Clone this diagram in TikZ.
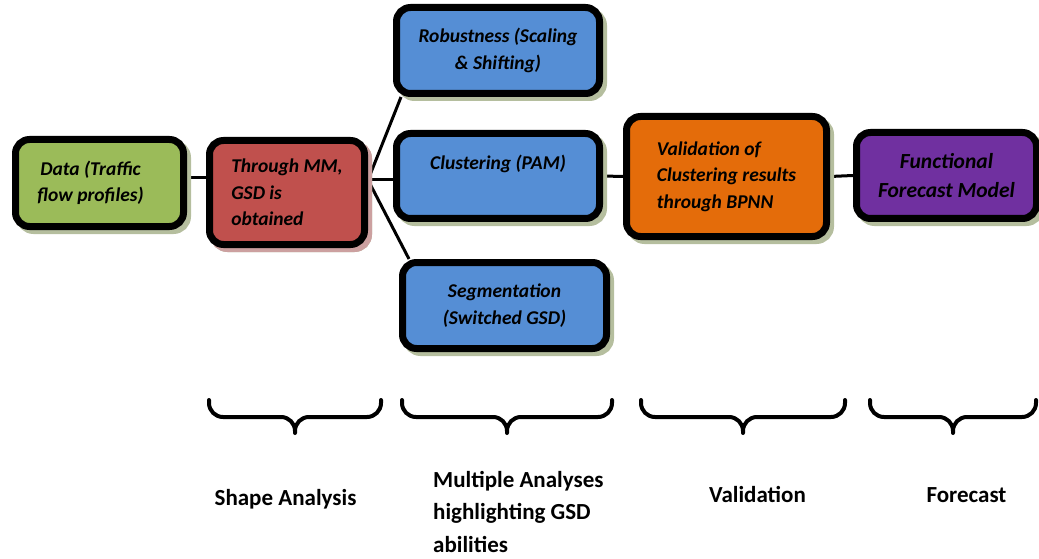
\documentclass[tikz,border=0pt]{standalone}
\usepackage{fontspec}
\setmainfont{Carlito}
\usetikzlibrary{shadows}
\usepackage{xcolor}
\definecolor{gsdgreen}{RGB}{155,187,89}
\definecolor{gsdred}{RGB}{192,80,77}
\definecolor{gsdblue}{RGB}{85,142,213}
\definecolor{gsdorange}{RGB}{228,108,10}
\definecolor{gsdpurple}{RGB}{112,48,160}
\definecolor{shadowolive}{RGB}{181,190,158}
\definecolor{shadowrose}{RGB}{204,160,160}
\newcommand{\stagefont}{\fontsize{19.5}{26.5}\selectfont\bfseries\itshape}
\newcommand{\forecastfont}{\fontsize{21.5}{29}\selectfont\bfseries\itshape}
\newcommand{\phasefont}{\fontsize{23}{32.5}\selectfont\bfseries}
\tikzstyle{stage} = [draw=black, line width=7pt, rounded corners=14pt, inner sep=0pt, align=center, font=\stagefont, drop shadow={shadow xshift=4pt, shadow yshift=-4pt, opacity=1, fill=shadowolive, draw=shadowolive}]
\tikzstyle{link} = [line width=3pt, black]
\tikzstyle{bracket} = [line width=4pt, rounded corners=14pt, line cap=round, black]
\tikzstyle{phase} = [font=\phasefont, inner sep=0pt, anchor=base]
\pgfdeclarelayer{background}
\pgfsetlayers{background,main}

\begin{document}
\begin{tikzpicture}[x=1pt, y=1pt]
\useasboundingbox (0,0) rectangle (1039,558);
% Stages
\node[stage, fill=gsdgreen, minimum width=168pt, minimum height=87pt] (data) at (99.5,375) {\mbox{Data (Traffic\hspace{18pt}}\\\mbox{flow profiles)\hspace{18pt}}};
\node[stage, fill=gsdred, align=left, minimum width=155pt, minimum height=104pt, drop shadow={shadow xshift=4pt, shadow yshift=-4pt, opacity=1, fill=shadowrose, draw=shadowrose}] (red) at (287,365.5) {Through MM,\\GSD is\\obtained};
\node[stage, fill=gsdblue, minimum width=203pt, minimum height=86pt] (rob) at (498,507.5) {Robustness (Scaling\\\& Shifting)};
\node[stage, fill=gsdblue, minimum width=203pt, minimum height=85pt] (clu) at (498,382) {Clustering (PAM)\\\mbox{}};
\node[stage, fill=gsdblue, minimum width=204pt, minimum height=86pt] (seg) at (504.5,252.5) {Segmentation\\(Switched GSD)};
\node[stage, fill=gsdorange, align=left, minimum width=200pt, minimum height=120pt] (ora) at (726.5,381.5) {Validation of\\Clustering results\\through BPNN};
\node[stage, fill=gsdpurple, font=\forecastfont, minimum width=180pt, minimum height=86pt] (pur) at (946.5,382.5) {Functional\\Forecast Model};

% Connectors
\begin{pgfonlayer}{background}
\draw[link] ([yshift=5pt]data.east) -- ([yshift=5pt]data.east -| red.west);
\coordinate (fan) at ([yshift=12.5pt]red.east);
\draw[link] (fan) -- ([xshift=8pt]rob.south west);
\draw[link] (fan) -- (fan -| clu.west);
\draw[link] (fan) -- ([xshift=10pt]seg.north west);
\draw[link] (clu.east) -- (ora.west);
\draw[link] (ora.east) -- (pur.west);
\end{pgfonlayer}

% Braces
\draw[bracket] (209,158) -- (209,141) -- (295,141) -- (295,125) (381,158) -- (381,141) -- (295,141) -- (295,125);
\draw[bracket] (402,158) -- (402,141) -- (507,141) -- (507,125) (612,158) -- (612,141) -- (507,141) -- (507,125);
\draw[bracket] (641,158) -- (641,141) -- (743,141) -- (743,125) (845,158) -- (845,141) -- (743,141) -- (743,125);
\draw[bracket] (870,158) -- (870,141) -- (953,141) -- (953,125) (1036,158) -- (1036,141) -- (953,141) -- (953,125);

% Phase labels
\node[phase] (shape) at (285.5,53) {Shape Analysis};
\node[phase, align=left, anchor=base west] (multi) at (433,6) {Multiple Analyses\\highlighting GSD\\abilities};
\node[phase] (valid) at (757.5,56) {Validation};
\node[phase] (fore) at (966.5,56) {Forecast};
\end{tikzpicture}
\end{document}
